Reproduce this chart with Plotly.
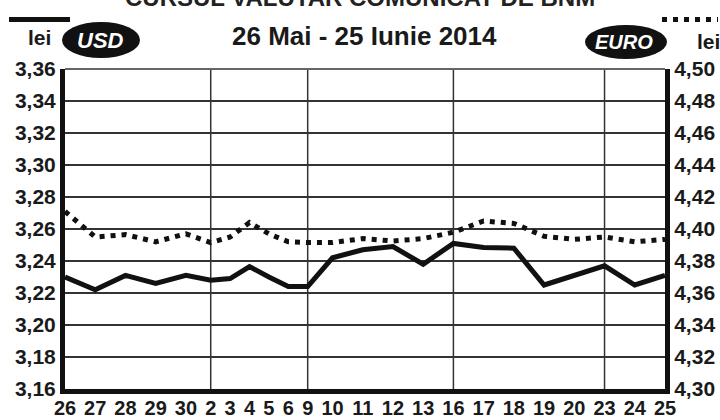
import plotly.graph_objects as go

# ---- data ----
day_labels = ["26", "27", "28", "29", "30", "2", "3", "4", "5", "6", "9", "10", "11",
              "12", "13", "16", "17", "18", "19", "20", "23", "24", "25"]
usd = [3.230, 3.222, 3.231, 3.226, 3.231, 3.228, 3.229, 3.2365, 3.230, 3.224, 3.224,
       3.242, 3.247, 3.249, 3.238, 3.251, 3.2485, 3.248, 3.225, 3.231, 3.237, 3.225, 3.231]
eur = [4.411, 4.395, 4.3965, 4.392, 4.397, 4.3915, 4.395, 4.404, 4.397, 4.392, 4.3915,
       4.3915, 4.394, 4.3925, 4.394, 4.398, 4.405, 4.4035, 4.3955, 4.3935, 4.395, 4.392, 4.3935]
week_starts = ["2", "9", "16", "23"]
title_text = "CURSUL VALUTAR COMUNICAT DE BNM"
subtitle_text = "26 Mai - 25 Iunie 2014"

# x positions follow typeset width of the day labels
GAP = 0.79
xpos = [0.0]
for i in range(1, len(day_labels)):
    xpos.append(xpos[-1] + len(day_labels[i - 1]) / 2 + len(day_labels[i]) / 2 + GAP)

W, H = 720, 420
L, R, T, B = 65, 665, 69, 389


def px(x):
    return (x - L) / (R - L)


def py(y):
    return (B - y) / (B - T)


FONT = "Liberation Sans, Arial, sans-serif"
INK = "#1a1a1a"

fig = go.Figure()
fig.add_trace(go.Scatter(x=xpos, y=usd, mode="lines", yaxis="y",
                         line=dict(color="#111111", width=5), hoverinfo="skip"))
fig.add_trace(go.Scatter(x=xpos, y=eur, mode="lines", yaxis="y2",
                         line=dict(color="#111111", width=5, dash="5px,6px"), hoverinfo="skip"))

shapes = []
for d in week_starts:
    xv = xpos[day_labels.index(d)]
    shapes.append(dict(type="line", xref="x", yref="paper", x0=xv, x1=xv, y0=0, y1=1,
                       line=dict(color="#333333", width=1.5), layer="below"))
# top border
shapes.append(dict(type="line", xref="paper", yref="paper", x0=0, x1=1, y0=1, y1=1,
                   line=dict(color="#666666", width=2)))
# legend marks
shapes.append(dict(type="line", xref="paper", yref="paper", x0=px(9), x1=px(70),
                   y0=py(19.5), y1=py(19.5), line=dict(color="#111111", width=5)))
shapes.append(dict(type="line", xref="paper", yref="paper", x0=px(662), x1=px(718),
                   y0=py(19.5), y1=py(19.5), line=dict(color="#111111", width=5, dash="5px,6px")))
# currency ellipses
shapes.append(dict(type="circle", xref="paper", yref="paper", x0=px(62), x1=px(140),
                   y0=py(58), y1=py(22), fillcolor="#111111", line=dict(width=0)))
shapes.append(dict(type="circle", xref="paper", yref="paper", x0=px(585), x1=px(667),
                   y0=py(59), y1=py(25), fillcolor="#111111", line=dict(width=0)))

annotations = [
    dict(text=title_text, xref="paper", yref="paper", x=px(360), y=py(13), xanchor="center",
         yanchor="bottom", showarrow=False,
         font=dict(family=FONT, size=24, color="#222222", weight="bold")),
    dict(text=subtitle_text, xref="paper", yref="paper", x=px(364), y=py(36), xanchor="center",
         yanchor="middle", showarrow=False,
         font=dict(family=FONT, size=26, color=INK, weight="bold")),
    dict(text="lei", xref="paper", yref="paper", x=px(39), y=py(38), xanchor="center",
         yanchor="middle", showarrow=False,
         font=dict(family=FONT, size=21, color=INK, weight="bold")),
    dict(text="lei", xref="paper", yref="paper", x=px(708), y=py(41), xanchor="center",
         yanchor="middle", showarrow=False,
         font=dict(family=FONT, size=21, color=INK, weight="bold")),
    dict(text="USD", xref="paper", yref="paper", x=px(100), y=py(40), xanchor="center",
         yanchor="middle", showarrow=False,
         font=dict(family=FONT, size=22, color="white", weight="bold", style="italic")),
    dict(text="EURO", xref="paper", yref="paper", x=px(624), y=py(42), xanchor="center",
         yanchor="middle", showarrow=False,
         font=dict(family=FONT, size=20, color="white", weight="bold", style="italic")),
]

fig.update_layout(
    width=W, height=H,
    margin=dict(l=L, r=W - R, t=T, b=H - B, pad=0, autoexpand=False),
    paper_bgcolor="white", plot_bgcolor="white",
    showlegend=False,
    separators=",.",
    shapes=shapes,
    annotations=annotations,
    xaxis=dict(range=[xpos[0], xpos[-1]], tickmode="array", tickvals=xpos, ticktext=day_labels,
               showgrid=False, zeroline=False, showline=True, linecolor="#111111", linewidth=5,
               ticks="", automargin=False, ticklabelstandoff=-3,
               tickfont=dict(family=FONT, size=20, color=INK, weight="bold"),
               fixedrange=True),
    yaxis=dict(range=[3.16, 3.36], tick0=3.16, dtick=0.02, tickformat=".2f",
               showgrid=True, gridcolor="#333333", gridwidth=1.5, zeroline=False,
               showline=True, linecolor="#111111", linewidth=5, ticks="", automargin=False,
               tickfont=dict(family=FONT, size=21, color=INK, weight="bold"), fixedrange=True),
    yaxis2=dict(range=[4.30, 4.50], tick0=4.30, dtick=0.02, tickformat=".2f",
                overlaying="y", side="right", showgrid=False, zeroline=False,
                showline=True, linecolor="#111111", linewidth=5, ticks="", automargin=False,
                tickfont=dict(family=FONT, size=21, color=INK, weight="bold"), fixedrange=True),
)

fig.write_html("out.html", config=dict(displayModeBar=False),
               post_script="document.body.style.margin='0';document.body.style.overflow='hidden';")
